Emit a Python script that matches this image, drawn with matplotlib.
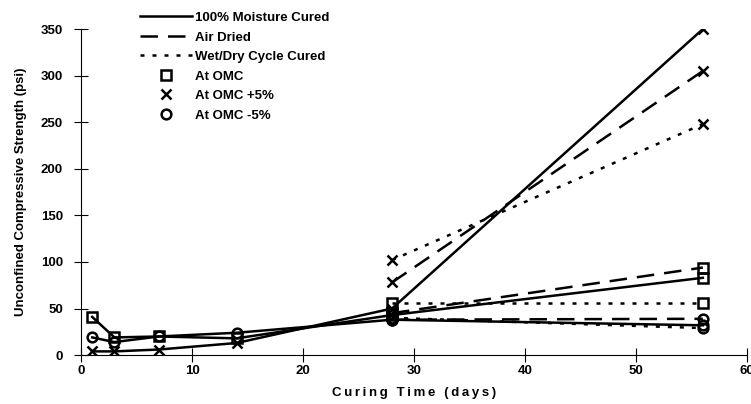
import matplotlib.pyplot as plt
from matplotlib.lines import Line2D

# curing times (days)
days_all = [1, 3, 7, 14, 28, 56]
days_late = [28, 56]

# 100% moisture cured
moist_omc = [41, 19, 20, 18, 43, 83]
moist_plus5 = [4, 4, 6, 13, 50, 350]
moist_minus5 = [19, 14, 20, 24, 38, 32]

# air dried
air_omc = [45, 94]
air_plus5 = [78, 305]
air_minus5 = [38, 39]

# wet/dry cycle cured
wd_omc = [56, 56]
wd_plus5 = [102, 248]
wd_minus5 = [40, 29]

plt.rcParams['font.family'] = ['Liberation Sans', 'DejaVu Sans']

fig = plt.figure(figsize=(7.51, 4.04), dpi=100)
ax = fig.add_axes([0.108, 0.121, 0.887, 0.807])

LW = 1.8
DASH = (7, 4)
DOT = (1.6, 3.2)
mk = dict(color='black', markerfacecolor='none', markeredgecolor='black',
          markersize=7, markeredgewidth=1.8)

# moisture cured (solid)
ax.plot(days_all, moist_omc, '-', marker='s', lw=LW, **mk)
ax.plot(days_all, moist_plus5, '-', marker='x', lw=LW, **mk)
ax.plot(days_all, moist_minus5, '-', marker='o', lw=LW, **mk)

# air dried (dashed)
for vals, m in [(air_omc, 's'), (air_plus5, 'x'), (air_minus5, 'o')]:
    ln, = ax.plot(days_late, vals, marker=m, lw=LW, **mk)
    ln.set_dashes(DASH)

# wet/dry (dotted)
for vals, m in [(wd_omc, 's'), (wd_plus5, 'x'), (wd_minus5, 'o')]:
    ln, = ax.plot(days_late, vals, marker=m, lw=LW, **mk)
    ln.set_dashes(DOT)

ax.set_xlim(0, 60)
ax.set_ylim(0, 350)
ax.set_xticks(range(0, 61, 10))
ax.set_yticks(range(0, 351, 50))
ax.spines['top'].set_visible(False)
ax.spines['right'].set_visible(False)
ax.spines['left'].set_linewidth(0.8)
ax.spines['bottom'].set_linewidth(0.8)
ax.tick_params(direction='inout', length=10, width=0.8, labelsize=9.5)
for lab in ax.get_xticklabels() + ax.get_yticklabels():
    lab.set_fontweight('bold')
ax.tick_params(axis='y', pad=8)
ax.tick_params(axis='x', pad=2)

ax.set_xlabel('\u2009'.join('Curing Time (days)'), fontsize=9.5, fontweight='bold', labelpad=7)
ax.set_ylabel('Unconfined Compressive Strength (psi)', fontsize=9.5, fontweight='bold', labelpad=10)

# legend
h1 = Line2D([], [], color='black', lw=LW)
h2 = Line2D([], [], color='black', lw=LW, dashes=DASH)
h3 = Line2D([], [], color='black', lw=LW, dashes=DOT)
h4 = Line2D([], [], ls='none', marker='s', **mk)
h5 = Line2D([], [], ls='none', marker='x', **mk)
h6 = Line2D([], [], ls='none', marker='o', **mk)
labels = ['100% Moisture Cured', 'Air Dried', 'Wet/Dry Cycle Cured',
          'At OMC', 'At OMC +5%', 'At OMC -5%']
fig.legend([h1, h2, h3, h4, h5, h6], labels, loc='upper left',
           bbox_to_anchor=(0.171, 1.0), frameon=False, handlelength=3.9,
           handletextpad=0.25, labelspacing=0.55, prop={'size': 9.5, 'weight': 'bold'})

fig.savefig('out.png', dpi=100)
